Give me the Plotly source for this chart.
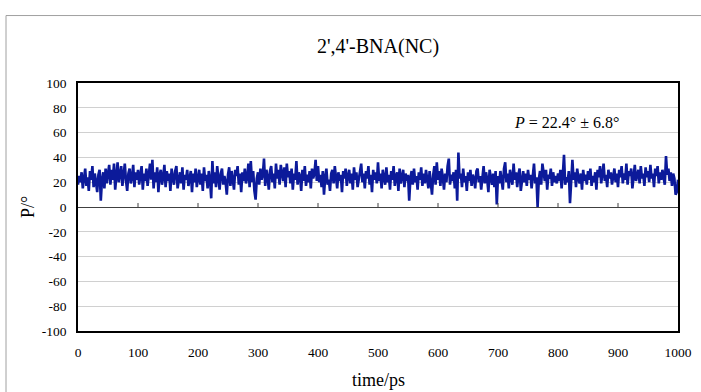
import plotly.graph_objects as go

title_text = "2',4'-BNA(NC)"
x_title = "time/ps"
y_title = "P/°"
stat_label = "<i>P</i> = 22.4° ± 6.8°"

time_step_ps = 2
p_values = [
    18,25,20,28,15,26,31,17,24,13,29,22,33,16,27,20,12,26,30,5,22,28,15,31,19,
    27,34,18,30,22,35,14,28,36,20,25,33,17,29,35,21,13,27,31,19,24,34,16,28,22,
    30,18,26,33,14,27,21,31,17,25,35,22,38,15,28,20,32,12,26,30,18,24,34,16,29,
    21,27,13,31,24,18,29,33,15,23,28,19,32,14,26,22,30,17,25,29,12,27,20,31,16,
    24,30,18,27,13,32,21,26,15,29,22,7,37,19,28,16,33,24,14,27,31,18,25,20,10,
    26,32,17,29,22,14,30,25,33,18,27,12,28,21,31,19,24,35,16,37,20,29,13,6,23,
    28,18,31,22,26,39,17,30,24,14,29,33,20,27,15,35,23,30,18,34,26,21,32,16,35,
    24,29,19,31,14,27,22,37,18,28,25,13,30,21,33,17,26,20,29,15,31,23,27,38,21,
    33,20,26,16,29,10,24,31,18,22,13,27,30,19,33,24,15,28,21,26,12,29,23,31,17,
    25,30,19,27,14,32,22,28,16,24,31,35,20,27,15,29,23,33,18,26,12,30,22,28,19,
    36,21,27,15,30,24,18,32,20,26,14,29,22,33,17,25,28,13,31,19,24,30,16,27,21,
    26,5,23,29,18,31,20,25,14,28,22,32,17,27,19,30,24,15,29,21,10,26,33,18,36,
    22,29,17,31,24,14,27,20,33,39,18,26,21,28,15,30,5,44,23,27,16,31,20,25,13,
    28,21,30,17,26,23,15,29,31,20,25,14,27,33,19,28,22,12,30,24,18,27,16,29,2,
    25,19,29,22,14,31,36,20,27,15,30,24,18,35,22,28,16,26,31,13,24,29,20,27,17,
    30,22,26,15,28,35,19,24,0,22,29,18,35,27,21,30,14,26,23,31,17,28,20,25,19,
    27,21,30,15,26,42,18,24,20,29,3,25,38,22,28,16,31,23,19,27,14,30,21,26,18,
    29,22,31,17,25,20,28,14,30,24,33,19,27,35,21,26,16,30,23,28,18,25,31,20,27,
    16,30,24,33,19,27,22,35,18,29,25,31,15,28,34,21,26,30,19,33,23,27,17,32,24,
    29,20,34,23,27,16,31,25,33,19,28,22,30,24,18,41,26,31,21,28,17,27,23,10,12,
    22,
]
time_ps = [i * time_step_ps for i in range(len(p_values))]

x_ticks = [0, 100, 200, 300, 400, 500, 600, 700, 800, 900, 1000]
y_ticks = [-100, -80, -60, -40, -20, 0, 20, 40, 60, 80, 100]

SERIF = "Liberation Serif, Times New Roman, serif"

fig = go.Figure()
fig.add_trace(go.Scatter(
    x=time_ps, y=p_values, mode="lines",
    line=dict(color="#0c1a9a", width=2.6),
    showlegend=False, hoverinfo="skip",
))

shapes = []
# tick marks on the zero-crossing horizontal axis
for t in x_ticks[1:-1]:
    shapes.append(dict(type="line", xref="x", yref="y", x0=t, x1=t,
                       ysizemode="pixel", yanchor=0, y0=0, y1=4,
                       line=dict(color="#404040", width=1)))
# outer chart frame (partially visible)
shapes.append(dict(type="line", xref="paper", yref="paper",
                   x0=-0.12, x1=1.2, y0=1.272, y1=1.272,
                   line=dict(color="#a0a0a0", width=1)))
shapes.append(dict(type="line", xref="paper", yref="paper",
                   x0=-0.12, x1=-0.12, y0=1.272, y1=-0.5,
                   line=dict(color="#a0a0a0", width=1)))

fig.update_layout(
    width=701, height=392,
    margin=dict(l=78, r=23, t=83, b=61, autoexpand=False),
    paper_bgcolor="white", plot_bgcolor="white",
    font=dict(family=SERIF, color="black"),
    title=dict(text=title_text, x=0.5, xref="paper", xanchor="center",
               y=1 - 46 / 392, yanchor="middle",
               font=dict(size=20, family=SERIF, color="black")),
    shapes=shapes,
    annotations=[
        dict(text=stat_label, xref="paper", yref="paper",
             x=(566 - 78) / 600, y=(331 - 122) / 248,
             xanchor="center", yanchor="middle", showarrow=False,
             font=dict(size=16, family=SERIF, color="black")),
        dict(text=x_title, xref="paper", yref="paper",
             x=0.5, y=(331 - 380) / 248,
             xanchor="center", yanchor="middle", showarrow=False,
             font=dict(size=18, family=SERIF, color="black")),
        dict(text=y_title, xref="paper", yref="paper", textangle=-90,
             x=(28 - 78) / 600, y=(331 - 207) / 248,
             xanchor="center", yanchor="middle", showarrow=False,
             font=dict(size=18, family=SERIF, color="black")),
    ],
)
fig.update_xaxes(
    range=[0, 1000], tickvals=x_ticks, ticktext=[str(v) for v in x_ticks],
    showgrid=False, zeroline=False, automargin=False,
    showline=True, mirror=True, linecolor="black", linewidth=1.5,
    ticks="", ticklabelstandoff=8,
    tickfont=dict(size=13.5, family=SERIF, color="black"),
)
fig.update_yaxes(
    range=[-100, 100], tickvals=y_ticks, ticktext=[str(v) for v in y_ticks],
    showgrid=True, gridcolor="#d0d0d0", gridwidth=1,
    zeroline=True, zerolinecolor="#404040", zerolinewidth=1, automargin=False,
    showline=True, mirror=True, linecolor="black", linewidth=1.5,
    ticks="", ticklabelstandoff=7,
    tickfont=dict(size=13.5, family=SERIF, color="black"),
)

fig.write_html("out.html", config={"displayModeBar": False},
               post_script="document.body.style.margin='0';")
